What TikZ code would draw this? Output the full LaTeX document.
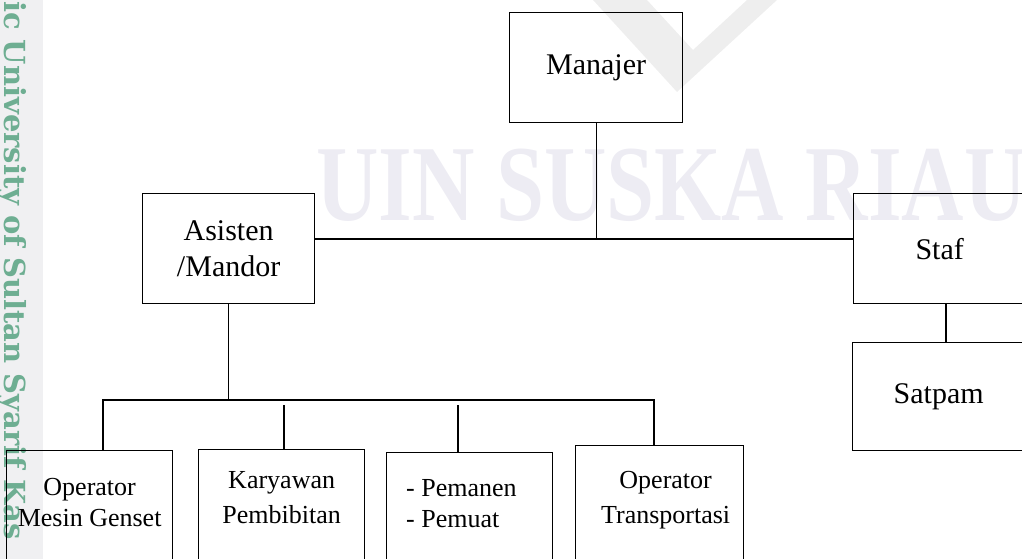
\documentclass[tikz,border=0pt]{standalone}
\usepackage{fontspec}
\setmainfont{Liberation Serif}
\newfontfamily\wmfont{DejaVu Serif}
\usetikzlibrary{positioning}
\definecolor{wmgrey}{RGB}{240,240,242}
\definecolor{wmgreen}{RGB}{110,174,146}
\definecolor{wmlilac}{RGB}{237,236,243}
\definecolor{wmshade}{RGB}{238,238,238}
\tikzset{
    %Define style for the chart boxes
    orgbox/.style={
           rectangle,
           draw=black, line width=1.3pt,
           anchor=north west,
           inner sep=0pt,
           minimum width=172pt,
           minimum height=110pt,
           font=\fontsize{30}{36}\selectfont,
           align=center},
    lowbox/.style={
           orgbox,
           minimum width=166pt,
           minimum height=160pt},
    lowtext/.style={
           inner sep=0pt,
           font=\fontsize{26}{31}\selectfont,
           align=center},
    widetext/.style={
           lowtext,
           font=\fontsize{26}{35}\selectfont},
    % Define connector style
    link/.style={
           draw=black, line width=1.3pt}
}
\begin{document}
\begin{tikzpicture}[x=1pt,y=-1pt]
\useasboundingbox (0,0) rectangle (1022,559);
\clip (0,0) rectangle (1022,559);
% watermark
\fill[wmgrey] (0,0) rectangle (43,559);
\fill[wmshade] (593,0) -- (677,92) -- (777,0) -- (747,0) -- (693,50) -- (647,0) -- cycle;
\node[text=wmlilac, font=\bfseries\fontsize{108}{108}\selectfont, anchor=base west, inner sep=0pt] (wmtext) at (316,220) {\scalebox{0.8}[1]{UIN SUSKA RIAU}};
\node[text=wmgreen, font=\wmfont\bfseries\fontsize{29}{29}\selectfont, rotate=-90, anchor=base west, inner sep=0pt] (wmside) at (5,1) {ic University of Sultan Syarif Kas};
% chart
\node[orgbox, minimum width=173pt] (manajer) at (509,12) {Manajer};
\node[orgbox] (asisten) at (142,193) {Asisten\\/Mandor};
\node[orgbox] (staf) at (853,193) {Staf};
\node[orgbox, minimum height=108pt] (satpam) at (852,342) {Satpam};
\node[lowbox] (genset) at (6,450) {};
\node[lowbox] (bibit) at (198,449) {};
\node[lowbox] (panen) at (386,452) {};
\node[lowbox, minimum width=168pt] (transport) at (575,445) {};
\node[lowtext, below=28pt of genset.north] (gensetT) {Operator\\Mesin Genset};
\node[widetext, below=22pt of bibit.north] (bibitT) {Karyawan\\Pembibitan};
\node[lowtext, align=left, below right=27pt and 20pt of panen.north west] (panenT) {- Pemanen\\- Pemuat};
\node[widetext, below=26pt of transport.north, xshift=6pt] (transportT) {Operator\\Transportasi};
\coordinate (jtop) at (594,239);
\coordinate (d1) at (103,400);
\coordinate (d2) at (284,400);
\coordinate (d3) at (458,400);
\coordinate (d4) at (654,400);
\coordinate (dstaf) at (946,0);
\draw[link] (manajer.south) -- (manajer.south |- jtop);
\draw[link] (asisten.east |- jtop) -- (staf.west |- jtop);
\draw[link] (asisten.south) -- (asisten.south |- d1);
\draw[link] (d1 |- genset.north) -- (d1) -- (d4) -- (d4 |- transport.north);
\draw[link, shorten <=5pt] (d2) -- (d2 |- bibit.north);
\draw[link, shorten <=5pt] (d3) -- (d3 |- panen.north);
\draw[link] (dstaf |- staf.south) -- (dstaf |- satpam.north);
\end{tikzpicture}
\end{document}
